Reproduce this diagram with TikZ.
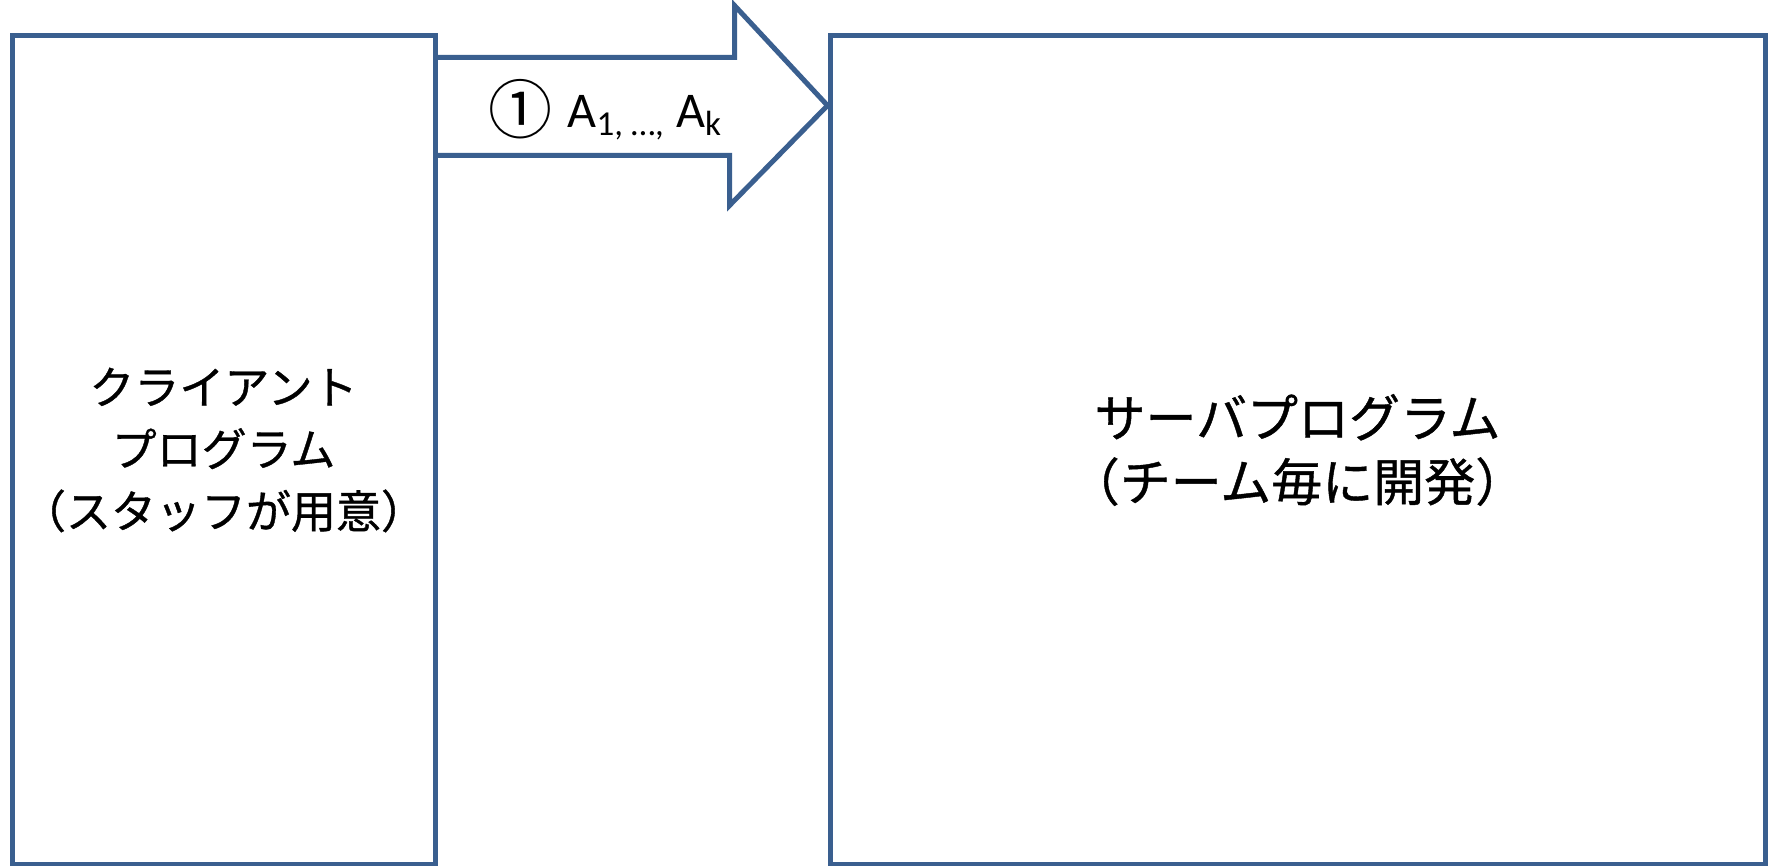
\documentclass[tikz,border=0pt]{standalone}
\usepackage{fontspec}
\setmainfont{Carlito}
\newfontfamily\jp{Noto Sans CJK JP}[FakeBold=0.8]
\newfontfamily\jpthin{Noto Sans CJK JP}
\usetikzlibrary{positioning, calc}
\definecolor{boxblue}{HTML}{3A5F8F}

\begin{document}
\begin{tikzpicture}[x=0.5pt, y=-0.5pt, line join=miter, box/.style={draw=boxblue, line width=2.5pt, align=center, inner sep=0pt}]
  \useasboundingbox (0,0) rectangle (1768,866);
  \node[box, minimum width=211.5pt, minimum height=414pt, font=\jp\fontsize{22.5}{31}\selectfont] (client) at (223.5,450) {クライアント\\プログラム\\（スタッフが用意）};
  \node[box, minimum width=467.5pt, minimum height=414pt, font=\jp\fontsize{25.5}{32}\selectfont] (server) at (1297.5,450) {サーバプログラム\\（チーム毎に開発）};
  \draw[boxblue, line width=2.5pt] ($(client.north east)+(0,24)$) -- ++(297,0) -- ++(0,-52) -- ($(server.north west)+(0,72)$) -- ++(-98,100) -- ++(0,-50) -- ($(client.north east)+(0,122)$);
  \node[font=\fontsize{25}{28}\selectfont, anchor=base west, inner sep=0pt] (args) at (488,128) {\raisebox{-3pt}{\jpthin\fontsize{32}{32}\selectfont ①}\hspace{2pt} A\textsubscript{1, …,} A\textsubscript{k}};
\end{tikzpicture}
\end{document}
